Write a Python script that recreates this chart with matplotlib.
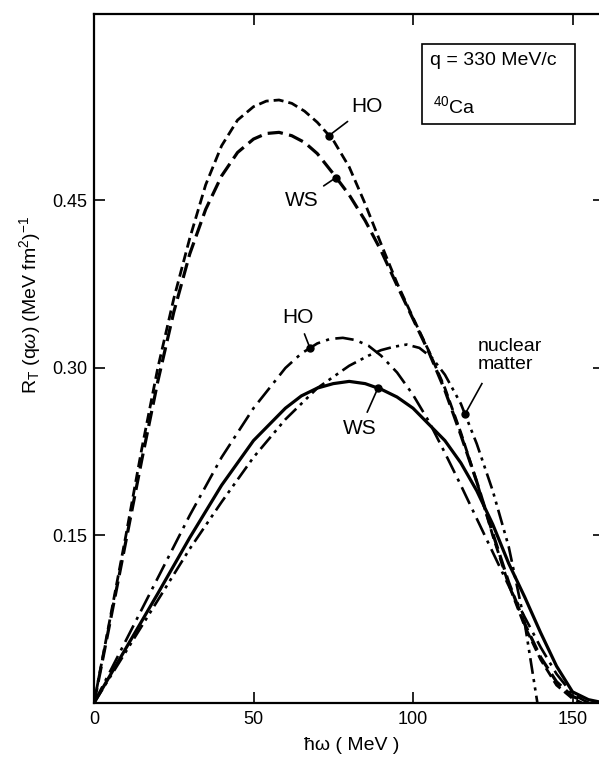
import numpy as np
import matplotlib.pyplot as plt
from matplotlib.patches import Rectangle

plt.rcParams['font.family'] = ['Liberation Sans', 'DejaVu Sans']
plt.rcParams['mathtext.fontset'] = 'custom'
plt.rcParams['mathtext.rm'] = 'Liberation Sans'
plt.rcParams['mathtext.it'] = 'Liberation Sans:italic'

# energy transfer (MeV) and transverse response R_T for each model
ho_dash_x = [0, 5, 10, 15, 20, 25, 30, 35, 40, 45, 50, 54, 58, 62, 66, 70, 75, 80, 85,
             90, 95, 100, 105, 110, 115, 120, 125, 130, 135, 140, 145, 150, 153]
ho_dash_y = [0, 0.075, 0.150, 0.228, 0.300, 0.362, 0.416, 0.464, 0.499, 0.522, 0.534,
             0.539, 0.540, 0.537, 0.530, 0.520, 0.504, 0.480, 0.447, 0.411, 0.376, 0.345,
             0.315, 0.282, 0.242, 0.198, 0.150, 0.106, 0.069, 0.039, 0.016, 0.004, 0]

ws_dash_x = [0, 5, 10, 15, 20, 25, 30, 35, 40, 45, 50, 54, 58, 62, 66, 70, 75, 80, 85,
             90, 95, 100, 105, 110, 115, 120, 125, 130, 135, 140, 145, 150, 155]
ws_dash_y = [0, 0.072, 0.145, 0.218, 0.288, 0.350, 0.402, 0.442, 0.472, 0.493, 0.505,
             0.510, 0.511, 0.508, 0.502, 0.492, 0.474, 0.455, 0.432, 0.405, 0.374, 0.344,
             0.314, 0.280, 0.240, 0.198, 0.152, 0.108, 0.071, 0.041, 0.019, 0.006, 0]

ho_dd_x = [0, 10, 20, 30, 40, 50, 60, 65, 70, 74, 78, 82, 86, 90, 95, 100, 105, 110, 115,
           120, 125, 130, 135, 140, 145, 150, 155]
ho_dd_y = [0, 0.056, 0.112, 0.168, 0.220, 0.264, 0.300, 0.313, 0.322, 0.326, 0.327, 0.325,
           0.320, 0.311, 0.296, 0.276, 0.252, 0.224, 0.195, 0.165, 0.135, 0.105, 0.077,
           0.050, 0.026, 0.008, 0]

nm_x = [0, 10, 20, 30, 40, 50, 60, 70, 80, 86, 90, 94, 98, 102, 106, 110, 115, 120, 125,
        130, 135, 139]
nm_y = [0, 0.046, 0.092, 0.138, 0.180, 0.220, 0.254, 0.282, 0.302, 0.311, 0.316, 0.319,
        0.321, 0.318, 0.309, 0.294, 0.268, 0.232, 0.190, 0.140, 0.072, 0]

ws_x = [0, 10, 20, 30, 40, 50, 60, 65, 70, 75, 80, 85, 90, 95, 100, 110, 115, 120, 125,
        130, 135, 140, 145, 150, 155, 160]
ws_y = [0, 0.049, 0.098, 0.148, 0.195, 0.235, 0.264, 0.275, 0.282, 0.286, 0.288, 0.286,
        0.281, 0.274, 0.264, 0.235, 0.215, 0.190, 0.160, 0.125, 0.095, 0.063, 0.033,
        0.010, 0.003, 0]

xticks = [0, 50, 100, 150]
yticks = [0.15, 0.30, 0.45]
ytick_labels = ['0.15', '0.30', '0.45']

fig = plt.figure(figsize=(5.99, 7.62), dpi=100)
ax = fig.add_axes([94/599, 59/762, 510.4/599, 689/762])

ax.plot(ho_dash_x, ho_dash_y, color='black', lw=2.0, ls=(0, (3.6, 1.8)))
ax.plot(ws_dash_x, ws_dash_y, color='black', lw=2.3, ls=(0, (4.8, 2.0)))
ax.plot(ho_dd_x, ho_dd_y, color='black', lw=1.9, ls=(0, (7, 2.4, 1.2, 2.4)))
ax.plot(nm_x, nm_y, color='black', lw=1.9, ls=(0, (6, 2, 1.2, 2, 1.2, 2)))
ax.plot(ws_x, ws_y, color='black', lw=2.3)

# curve labels with pointer lines ending in a dot
def pointer(label, curve_x, curve_y, xdot, text_xy, ha='center'):
    ydot = np.interp(xdot, curve_x, curve_y)
    ax.plot(xdot, ydot, 'o', color='black', ms=5)
    ax.annotate(label, xy=(xdot, ydot), xytext=text_xy, ha=ha, va='center',
                fontsize=15, arrowprops=dict(arrowstyle='-', color='black', lw=1.2,
                                             shrinkA=3, shrinkB=0))

pointer('HO', ho_dash_x, ho_dash_y, 73.7, (85.6, 0.534))
pointer('WS', ws_dash_x, ws_dash_y, 75.9, (65.2, 0.450))
pointer('HO', ho_dd_x, ho_dd_y, 67.7, (64.0, 0.345))
pointer('WS', ws_x, ws_y, 89.0, (83.4, 0.246))
ydot = np.interp(116.3, nm_x, nm_y)
ax.plot(116.3, ydot, 'o', color='black', ms=5)
ax.plot([116.3, 121.6], [ydot, 0.286], color='black', lw=1.2)
ax.text(120.4, 0.311, 'nuclear\nmatter', ha='left', va='center', fontsize=14,
        linespacing=1.05)

# info box
ax.add_patch(Rectangle((102.8, 0.5185), 48, 0.0716, fill=False, ec='black', lw=1.2))
ax.text(105.3, 0.575, 'q = 330 MeV/c', ha='left', va='center', fontsize=14)
ax.text(106.3, 0.528, r'$^{40}$Ca', ha='left', va='baseline', fontsize=14)

ax.set_xlim(0, 160)
ax.set_ylim(0, 0.617)
ax.set_xticks(xticks)
ax.set_yticks(yticks)
ax.set_yticklabels(ytick_labels)
ax.tick_params(direction='in', length=8, width=1.2, top=True, right=True,
               labelsize=13)
ax.tick_params(axis='x', pad=6)
ax.tick_params(axis='y', pad=5)
for s in ax.spines.values():
    s.set_linewidth(1.6)

fig.text(30/599, 1 - 305/762, r'R$_{\rm T}$ (q$\omega$) (MeV fm$^2$)$^{-1}$',
         rotation=90, ha='center', va='center', fontsize=14)
fig.text(352/599, 1 - 746/762, 'ħω ( MeV )', ha='center', va='center', fontsize=14)

fig.savefig('out.png', dpi=100)
